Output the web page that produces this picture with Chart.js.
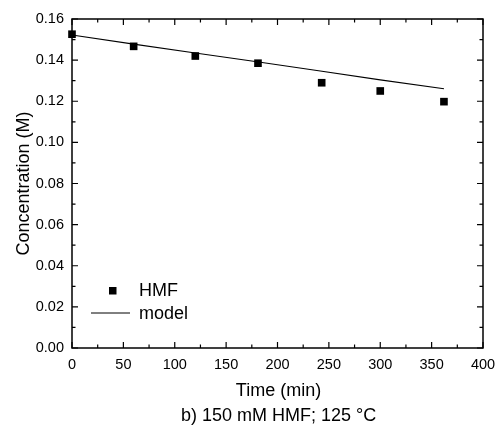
<!DOCTYPE html>
<html>
<head>
<meta charset="utf-8">
<script src="https://cdn.jsdelivr.net/npm/chart.js@4.4.1/dist/chart.umd.min.js"></script>
<style>
  html, body { margin: 0; padding: 0; background: #fff; }
  #wrap { width: 498px; height: 426px; }
</style>
</head>
<body>
<div id="wrap"><canvas id="chart" width="498" height="426"></canvas></div>
<script>
// measured HMF concentration (M) vs time (min)
const hmfTime = [0, 60, 120, 181, 243, 300, 362];
const hmfConc = [0.1526, 0.1467, 0.1420, 0.1385, 0.1290, 0.1250, 0.1198];

// model curve
const modelTime = [0, 60, 120, 180, 240, 300, 362];
const modelConc = [0.1522, 0.1478, 0.1435, 0.1392, 0.1348, 0.1304, 0.1261];

const xTicks = [0, 50, 100, 150, 200, 250, 300, 350, 400];
const yTicks = [0.00, 0.02, 0.04, 0.06, 0.08, 0.10, 0.12, 0.14, 0.16];

const FONT = 'Arial, "Liberation Sans", sans-serif';

// frame, inward ticks, titles and legend
const framePlugin = {
    id: 'frame',
    afterDraw(chart) {
        const ctx = chart.ctx;
        const a = chart.chartArea;
        const xs = chart.scales.x, ys = chart.scales.y;
        ctx.save();
        ctx.strokeStyle = '#000';
        ctx.lineWidth = 1.5;
        ctx.strokeRect(a.left, a.top, a.right - a.left, a.bottom - a.top);

        ctx.lineWidth = 1.2;
        ctx.beginPath();
        for (let v = 0; v <= 400; v += 25) {
            const px = xs.getPixelForValue(v);
            const len = v % 50 === 0 ? 6 : 3.5;
            ctx.moveTo(px, a.bottom); ctx.lineTo(px, a.bottom - len);
            ctx.moveTo(px, a.top); ctx.lineTo(px, a.top + len);
        }
        for (let i = 0; i <= 16; i++) {
            const py = ys.getPixelForValue(i * 0.01);
            const len = i % 2 === 0 ? 6 : 3.5;
            ctx.moveTo(a.left, py); ctx.lineTo(a.left + len, py);
            ctx.moveTo(a.right, py); ctx.lineTo(a.right - len, py);
        }
        ctx.stroke();

        // axis titles and caption
        ctx.fillStyle = '#000';
        ctx.font = '18px ' + FONT;
        ctx.textAlign = 'center';
        ctx.textBaseline = 'alphabetic';
        const cx = (a.left + a.right) / 2 + 1;
        ctx.fillText('Time (min)', cx, 396);
        ctx.fillText('b) 150 mM HMF; 125 \u00B0C', cx, 421);
        ctx.save();
        ctx.translate(29, (a.top + a.bottom) / 2);
        ctx.rotate(-Math.PI / 2);
        ctx.fillText('Concentration (M)', 0, 0);
        ctx.restore();

        // legend
        ctx.textAlign = 'left';
        ctx.textBaseline = 'middle';
        ctx.fillRect(109, 287, 7.5, 7.5);
        ctx.fillText('HMF', 139, 291);
        ctx.lineWidth = 1;
        ctx.beginPath();
        ctx.moveTo(91, 313); ctx.lineTo(130, 313);
        ctx.stroke();
        ctx.fillText('model', 139, 314);
        ctx.restore();
    }
};

new Chart(document.getElementById('chart'), {
    type: 'scatter',
    data: {
        datasets: [
            {
                label: 'HMF',
                data: hmfTime.map((t, i) => ({ x: t, y: hmfConc[i] })),
                pointStyle: 'rect',
                pointRadius: 5.4,
                backgroundColor: '#000',
                borderColor: '#000',
                borderWidth: 0,
                showLine: false,
                clip: false
            },
            {
                label: 'model',
                data: modelTime.map((t, i) => ({ x: t, y: modelConc[i] })),
                showLine: true,
                pointRadius: 0,
                borderColor: '#000',
                borderWidth: 1.1,
                tension: 0
            }
        ]
    },
    options: {
        responsive: false,
        animation: false,
        events: [],
        layout: { padding: { left: 0, right: 15, top: 19, bottom: 0 } },
        plugins: { legend: { display: false }, tooltip: { enabled: false } },
        scales: {
            x: {
                type: 'linear',
                min: 0, max: 400,
                afterFit: s => { s.height = 78; s.paddingLeft = 0; s.paddingRight = 0; },
                afterBuildTicks: s => { s.ticks = xTicks.map(v => ({ value: v })); },
                grid: { display: false, drawTicks: false },
                border: { display: false },
                ticks: { color: '#000', padding: 8, maxRotation: 0, font: { family: FONT, size: 14.5 } }
            },
            y: {
                type: 'linear',
                min: 0, max: 0.16,
                afterFit: s => { s.width = 72; s.paddingTop = 0; s.paddingBottom = 0; },
                afterBuildTicks: s => { s.ticks = yTicks.map(v => ({ value: v })); },
                grid: { display: false, drawTicks: false },
                border: { display: false },
                ticks: { color: '#000', padding: 8, font: { family: FONT, size: 14.5 },
                         callback: v => v.toFixed(2) }
            }
        }
    },
    plugins: [framePlugin]
});
</script>
</body>
</html>
